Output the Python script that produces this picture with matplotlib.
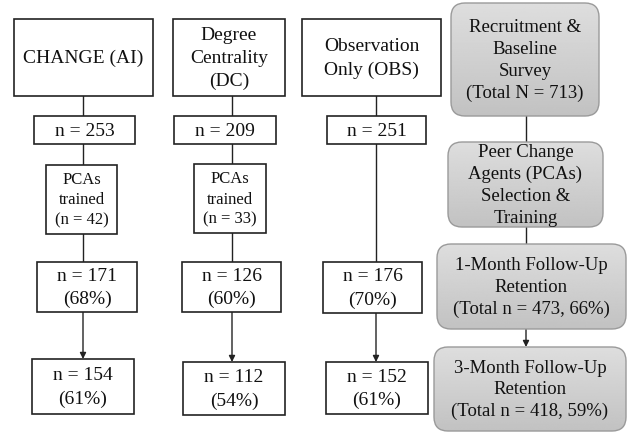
import numpy as np
import matplotlib
matplotlib.use("Agg")
import matplotlib.pyplot as plt
from matplotlib.patches import Rectangle, FancyBboxPatch

plt.rcParams['font.family'] = ['Liberation Serif', 'DejaVu Serif']

# arm labels and counts
arms = ["CHANGE (AI)", "Degree\nCentrality\n(DC)", "Observation\nOnly (OBS)"]
enrolled = [253, 209, 251]
pcas_trained = [42, 33, None]
month1_n = [171, 126, 176]
month1_pct = [68, 60, 70]
month3_n = [154, 112, 152]
month3_pct = [61, 54, 61]

# overall stages (gray column)
stages = ["Recruitment &\nBaseline\nSurvey\n(Total N = 713)",
          "Peer Change\nAgents (PCAs)\nSelection &\nTraining",
          "1-Month Follow-Up\nRetention\n(Total n = 473, 66%)",
          "3-Month Follow-Up\nRetention\n(Total n = 418, 59%)"]

# layout in pixels (x0, x1, y0, y1)
col_x = [83, 232, 376]
top_boxes = [(14, 153, 19, 96), (173, 285, 19, 96), (302, 441, 19, 96)]
n_boxes = [(34, 135, 116, 144), (174, 276, 116, 144), (327, 426, 116, 144)]
pca_boxes = [(46, 117, 165, 234), (194, 266, 164, 233), None]
m1_boxes = [(37, 137, 262, 312), (182, 281, 262, 312), (323, 422, 262, 313)]
m3_boxes = [(32, 134, 359, 414), (183, 285, 362, 415), (326, 428, 362, 414)]
gray_x = 526
gray_boxes = [(451, 599, 3, 116), (448, 603, 142, 227),
              (437, 626, 244, 329), (434, 626, 347, 431)]

W, H = 634, 433
fig = plt.figure(figsize=(W / 100, H / 100), dpi=100)
ax = fig.add_axes([0, 0, 1, 1])
ax.set_xlim(0, W)
ax.set_ylim(H, 0)
ax.axis("off")


def box(b, text, fs, ls=1.45):
    x0, x1, y0, y1 = b
    ax.add_patch(Rectangle((x0, y0), x1 - x0, y1 - y0, fc="white",
                           ec="#222222", lw=1.2, zorder=2))
    ax.text((x0 + x1) / 2, (y0 + y1) / 2 + 1, text, ha="center", va="center",
            fontsize=fs, linespacing=ls, color="#111111", zorder=3)


def line(x, y0, y1, arrow=False):
    if arrow:
        ax.annotate("", xy=(x, y1), xytext=(x, y0),
                    arrowprops=dict(arrowstyle="-|>", color="#222222", lw=1.0,
                                    mutation_scale=9, shrinkA=0, shrinkB=0),
                    zorder=1)
    else:
        ax.plot([x, x], [y0, y1], color="#222222", lw=1.0, zorder=1)


grad = np.linspace(0.87, 0.76, 256).reshape(-1, 1)

for i in range(3):
    x = col_x[i]
    box(top_boxes[i], arms[i], 14)
    box(n_boxes[i], "n = {}".format(enrolled[i]), 14)
    box(m1_boxes[i], "n = {}\n({}%)".format(month1_n[i], month1_pct[i]), 14)
    box(m3_boxes[i], "n = {}\n({}%)".format(month3_n[i], month3_pct[i]), 14)
    line(x, top_boxes[i][3], n_boxes[i][2])
    if pca_boxes[i] is not None:
        box(pca_boxes[i], "PCAs\ntrained\n(n = {})".format(pcas_trained[i]), 12, ls=1.35)
        line(x, n_boxes[i][3], pca_boxes[i][2])
        line(x, pca_boxes[i][3], m1_boxes[i][2])
    else:
        line(x, n_boxes[i][3], m1_boxes[i][2])
    line(x, m1_boxes[i][3], m3_boxes[i][2], arrow=True)

for j, (b, s) in enumerate(zip(gray_boxes, stages)):
    x0, x1, y0, y1 = b
    patch = FancyBboxPatch((x0, y0), x1 - x0, y1 - y0,
                           boxstyle="round,pad=0,rounding_size=14",
                           fc="none", ec="#9a9a9a", lw=1.0, zorder=3)
    ax.add_patch(patch)
    im = ax.imshow(grad, cmap="gray", vmin=0, vmax=1, aspect="auto",
                   extent=(x0, x1, y1, y0), zorder=2)
    im.set_clip_path(patch)
    ax.text((x0 + x1) / 2, (y0 + y1) / 2 + 1, s, ha="center", va="center",
            fontsize=13.5, linespacing=1.35, color="#111111", zorder=4)
    if j < len(gray_boxes) - 1:
        nxt = gray_boxes[j + 1]
        line(gray_x, y1, nxt[2], arrow=(j == 2))

ax.set_xlim(0, W)
ax.set_ylim(H, 0)
fig.savefig("out.png", dpi=100)
